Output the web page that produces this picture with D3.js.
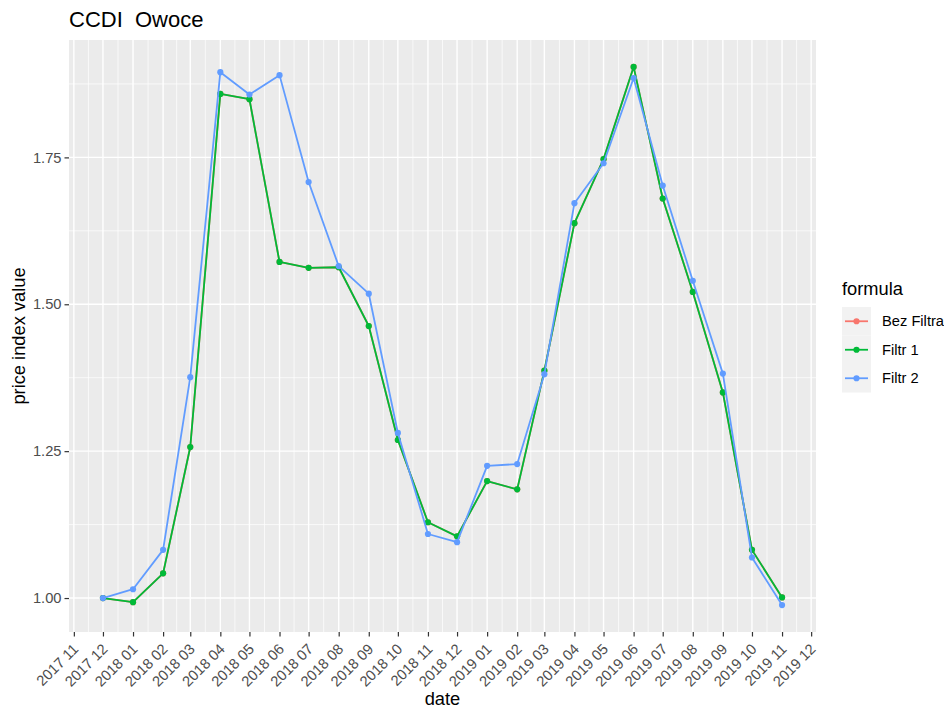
<!DOCTYPE html>
<html>
<head>
<meta charset="utf-8">
<script src="https://cdn.jsdelivr.net/npm/d3@7"></script>
<style>
  body { margin: 0; background: #ffffff; }
  svg { display: block; font-family: "Liberation Sans", Arial, sans-serif; }
  .plot-title { white-space: pre; }
</style>
</head>
<body>
<svg id="chart" width="944" height="713"></svg>
<script>
// Monthly observation dates
const months = [
  "2017-12", "2018-01", "2018-02", "2018-03", "2018-04", "2018-05",
  "2018-06", "2018-07", "2018-08", "2018-09", "2018-10", "2018-11",
  "2018-12", "2019-01", "2019-02", "2019-03", "2019-04", "2019-05",
  "2019-06", "2019-07", "2019-08", "2019-09", "2019-10", "2019-11"
];

// CCDI price index for fruit, by formula
const filtr1 = [
  1.000, 0.993, 1.042, 1.257, 1.858, 1.849,
  1.572, 1.562, 1.563, 1.463, 1.269, 1.129,
  1.105, 1.199, 1.185, 1.387, 1.638, 1.747,
  1.904, 1.680, 1.521, 1.350, 1.082, 1.001
];
// Unfiltered variant coincides with Filtr 1
const bezFiltra = filtr1.slice();
const filtr2 = [
  1.000, 1.015, 1.082, 1.376, 1.895, 1.857,
  1.890, 1.708, 1.565, 1.518, 1.281, 1.109,
  1.095, 1.225, 1.228, 1.381, 1.672, 1.740,
  1.885, 1.702, 1.540, 1.382, 1.069, 0.988
];

const seriesNames = ["Bez Filtra", "Filtr 1", "Filtr 2"];
const seriesColors = ["#F8766D", "#00BA38", "#619CFF"];
const yTicks = [1.00, 1.25, 1.50, 1.75];
const xTickStart = "2017-11";
const xTickEnd = "2019-12";
const xTickFormat = "%Y %m";

const titleText = "CCDI  Owoce";
const xTitle = "date";
const yTitle = "price index value";
const legendTitle = "formula";

const parse = d3.timeParse("%Y-%m");
const dates = months.map(parse);
const allSeries = [bezFiltra, filtr1, filtr2].map((vals, i) => ({
  name: seriesNames[i],
  color: seriesColors[i],
  points: vals.map((v, j) => ({ date: dates[j], value: v }))
}));

const svg = d3.select("#chart");
const panel = { left: 69, right: 816, top: 40, bottom: 632 };

// ggplot-style 5% expansion of the data range on both axes
const xExt = d3.extent(dates);
const xSpan = xExt[1] - xExt[0];
const x = d3.scaleTime()
  .domain([new Date(+xExt[0] - 0.05 * xSpan), new Date(+xExt[1] + 0.05 * xSpan)])
  .range([panel.left, panel.right]);

const allVals = [].concat(bezFiltra, filtr1, filtr2);
const yExt = d3.extent(allVals);
const ySpan = yExt[1] - yExt[0];
const y = d3.scaleLinear()
  .domain([yExt[0] - 0.05 * ySpan, yExt[1] + 0.05 * ySpan])
  .range([panel.bottom, panel.top]);

// Panel background
svg.append("rect")
  .attr("x", panel.left).attr("y", panel.top)
  .attr("width", panel.right - panel.left)
  .attr("height", panel.bottom - panel.top)
  .attr("fill", "#EBEBEB");

const xTicks = d3.timeMonth.range(parse(xTickStart), d3.timeMonth.offset(parse(xTickEnd), 1));

// Minor grid: midpoints between major breaks
const grid = svg.append("g");
const xMinor = [];
for (let i = 0; i < xTicks.length - 1; i++) {
  xMinor.push(new Date((+xTicks[i] + +xTicks[i + 1]) / 2));
}
const yMinor = [];
for (let i = 0; i < yTicks.length - 1; i++) yMinor.push((yTicks[i] + yTicks[i + 1]) / 2);
yMinor.push(yTicks[yTicks.length - 1] + 0.125);

grid.selectAll(".xminor").data(xMinor.filter(d => x(d) > panel.left && x(d) < panel.right))
  .join("line")
  .attr("x1", d => x(d)).attr("x2", d => x(d))
  .attr("y1", panel.top).attr("y2", panel.bottom)
  .attr("stroke", "#ffffff").attr("stroke-width", 0.7);
grid.selectAll(".yminor").data(yMinor.filter(d => y(d) > panel.top && y(d) < panel.bottom))
  .join("line")
  .attr("x1", panel.left).attr("x2", panel.right)
  .attr("y1", d => y(d)).attr("y2", d => y(d))
  .attr("stroke", "#ffffff").attr("stroke-width", 0.7);
grid.selectAll(".xmajor").data(xTicks)
  .join("line")
  .attr("x1", d => x(d)).attr("x2", d => x(d))
  .attr("y1", panel.top).attr("y2", panel.bottom)
  .attr("stroke", "#ffffff").attr("stroke-width", 1.4);
grid.selectAll(".ymajor").data(yTicks)
  .join("line")
  .attr("x1", panel.left).attr("x2", panel.right)
  .attr("y1", d => y(d)).attr("y2", d => y(d))
  .attr("stroke", "#ffffff").attr("stroke-width", 1.4);

// Series lines and points
const line = d3.line().x(d => x(d.date)).y(d => y(d.value));
allSeries.forEach(s => {
  const g = svg.append("g");
  g.append("path")
    .datum(s.points)
    .attr("d", line)
    .attr("fill", "none")
    .attr("stroke", s.color)
    .attr("stroke-width", 1.8)
    .attr("stroke-linejoin", "round");
  g.selectAll("circle").data(s.points)
    .join("circle")
    .attr("cx", d => x(d.date))
    .attr("cy", d => y(d.value))
    .attr("r", 3.1)
    .attr("fill", s.color);
});

// Axes
const yAxis = d3.axisLeft(y).tickValues(yTicks).tickFormat(d3.format(".2f")).tickSize(4.5).tickPadding(3);
const yG = svg.append("g").attr("transform", `translate(${panel.left},0)`).call(yAxis);
yG.select(".domain").remove();
yG.selectAll(".tick line").attr("stroke", "#333333").attr("stroke-width", 1.2);
yG.selectAll(".tick text").attr("fill", "#4D4D4D").attr("font-size", 14.7)
  .attr("font-family", "Liberation Sans, Arial, sans-serif");

const xAxis = d3.axisBottom(x).tickValues(xTicks).tickFormat(d3.timeFormat(xTickFormat)).tickSize(4.5);
const xG = svg.append("g").attr("transform", `translate(0,${panel.bottom})`).call(xAxis);
xG.select(".domain").remove();
xG.selectAll(".tick line").attr("stroke", "#333333").attr("stroke-width", 1.2);
xG.selectAll(".tick text")
  .attr("fill", "#4D4D4D").attr("font-size", 14.7)
  .attr("font-family", "Liberation Sans, Arial, sans-serif")
  .attr("text-anchor", "end")
  .attr("dy", null)
  .attr("y", null)
  .attr("transform", "translate(5,18) rotate(-45)");

// Titles
svg.append("text")
  .attr("class", "plot-title")
  .attr("x", panel.left).attr("y", 27)
  .attr("font-size", 22).attr("fill", "#000000")
  .text(titleText);
svg.append("text")
  .attr("x", (panel.left + panel.right) / 2).attr("y", 705)
  .attr("text-anchor", "middle")
  .attr("font-size", 18.3).attr("fill", "#000000")
  .text(xTitle);
svg.append("text")
  .attr("transform", `translate(25,${(panel.top + panel.bottom) / 2}) rotate(-90)`)
  .attr("text-anchor", "middle")
  .attr("font-size", 18.3).attr("fill", "#000000")
  .text(yTitle);

// Legend
const legend = svg.append("g").attr("transform", "translate(842,0)");
legend.append("text")
  .attr("x", 0).attr("y", 295)
  .attr("font-size", 18.3).attr("fill", "#000000")
  .text(legendTitle);
const keyH = 28.5, keyW = 29, keyTop = 307;
allSeries.forEach((s, i) => {
  const cy = keyTop + keyH * i + keyH / 2;
  legend.append("rect")
    .attr("x", 0).attr("y", keyTop + keyH * i)
    .attr("width", keyW).attr("height", keyH)
    .attr("fill", "#F2F2F2");
  legend.append("line")
    .attr("x1", 3).attr("x2", keyW - 3)
    .attr("y1", cy).attr("y2", cy)
    .attr("stroke", s.color).attr("stroke-width", 1.8);
  legend.append("circle")
    .attr("cx", keyW / 2).attr("cy", cy).attr("r", 3.1)
    .attr("fill", s.color);
  legend.append("text")
    .attr("x", 40).attr("y", cy + 5)
    .attr("font-size", 14.7).attr("fill", "#000000")
    .text(s.name);
});
</script>
</body>
</html>
